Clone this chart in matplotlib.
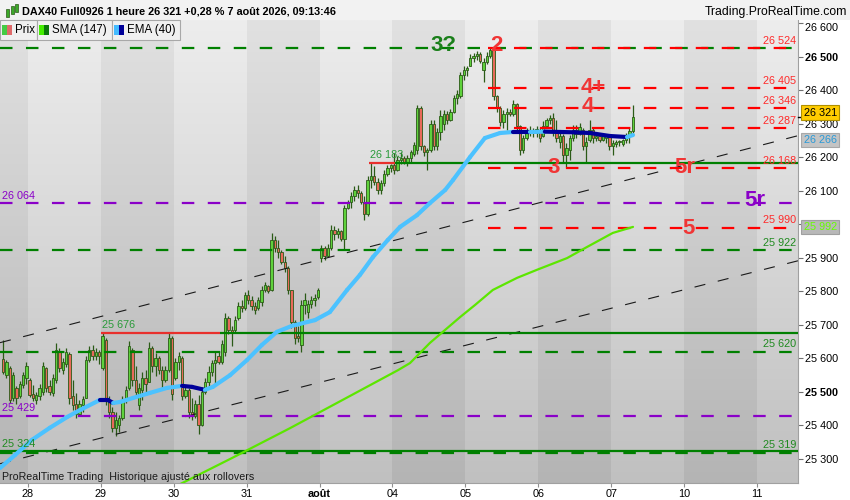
import matplotlib
matplotlib.use("Agg")
import matplotlib.pyplot as plt
import matplotlib.transforms as mtransforms
from matplotlib.collections import LineCollection
from matplotlib.patches import Rectangle
import numpy as np

plt.rcParams['font.family'] = ['Liberation Sans', 'DejaVu Sans']
plt.rcParams['lines.scale_dashes'] = False

# ---------------------------------------------------------------- data
day_labels = ['28', '29', '30', '31', 'août', '04', '05', '06', '07', '10', '11']
BARS_PER_DAY = 22
session_bar_counts = [8, 22, 22, 22, 22, 22, 22, 22, 22, 7]
session_first_slot = [14, 0, 0, 0, 0, 0, 0, 0, 0, 0]
session_day_index = [-1, 0, 1, 2, 3, 4, 5, 6, 7, 8]

opens = [
    25598, 25550, 25571, 25481, 25511, 25487, 25520, 25541,
    25535, 25493, 25475, 25487, 25499, 25571, 25517, 25496, 25535, 25619, 25565,
    25583, 25613, 25487, 25463, 25434, 25460, 25481, 25595, 25624, 25607, 25619,
    25571, 25654, 25475, 25440, 25392, 25401, 25422, 25475, 25511, 25624, 25535,
    25460, 25505, 25541, 25529, 25630, 25577, 25601, 25565, 25535, 25565, 25660,
    25541, 25589, 25601, 25487, 25505, 25440, 25428, 25463, 25401, 25499, 25529,
    25559, 25586, 25607, 25589, 25619, 25720, 25684, 25684, 25720, 25756, 25750,
    25788, 25774, 25756, 25750, 25768, 25803, 25815, 25803, 25952, 25929, 25917,
    25887, 25869, 25803, 25708, 25666, 25639, 25759, 25738, 25762, 25774, 25783,
    25899, 25929, 25905, 25929, 25982, 25970, 25979, 25955, 26048, 26066, 26084,
    26102, 26093, 26066, 26030, 26131, 26143, 26125, 26102, 26122, 26149, 26167,
    26176, 26161, 26191, 26197, 26185, 26197, 26209, 26221, 26346, 26233, 26215,
    26221, 26298, 26233, 26274, 26298, 26328, 26310, 26334, 26376, 26382, 26444,
    26459, 26471, 26495, 26501, 26507, 26459, 26483, 26501, 26519, 26382, 26346,
    26304, 26328, 26334, 26328, 26358, 26292, 26221, 26257, 26274, 26280, 26271,
    26280, 26262, 26292, 26310, 26316, 26274, 26245, 26262, 26206, 26221, 26257,
    26280, 26268, 26280, 26233, 26251, 26280, 26257, 26262, 26251, 26257, 26262,
    26233, 26239, 26245, 26239, 26251, 26262, 26277,
]
highs = [
    25654, 25595, 25577, 25559, 25517, 25532, 25559, 25589,
    25541, 25520, 25499, 25523, 25589, 25574, 25535, 25553, 25645, 25630, 25601,
    25630, 25619, 25535, 25496, 25475, 25487, 25607, 25636, 25639, 25630, 25624,
    25675, 25660, 25487, 25455, 25440, 25431, 25487, 25517, 25651, 25630, 25577,
    25526, 25559, 25565, 25648, 25636, 25616, 25607, 25577, 25577, 25675, 25666,
    25601, 25619, 25607, 25520, 25511, 25481, 25475, 25490, 25514, 25541, 25577,
    25595, 25619, 25619, 25654, 25735, 25726, 25696, 25726, 25768, 25774, 25797,
    25803, 25785, 25768, 25782, 25815, 25827, 25818, 25973, 25964, 25952, 25923,
    25905, 25875, 25803, 25714, 25696, 25774, 25794, 25774, 25785, 25791, 25809,
    25938, 25935, 25941, 25997, 25994, 25988, 25982, 26057, 26072, 26096, 26113,
    26116, 26099, 26084, 26143, 26183, 26173, 26137, 26131, 26161, 26178, 26180,
    26212, 26203, 26215, 26203, 26206, 26221, 26245, 26355, 26352, 26236, 26227,
    26310, 26310, 26286, 26340, 26340, 26337, 26343, 26385, 26400, 26453, 26471,
    26471, 26507, 26510, 26516, 26513, 26495, 26513, 26524, 26524, 26385, 26352,
    26340, 26346, 26343, 26370, 26361, 26295, 26265, 26286, 26292, 26286, 26292,
    26286, 26307, 26316, 26325, 26331, 26310, 26271, 26268, 26242, 26265, 26295,
    26295, 26301, 26286, 26260, 26310, 26289, 26271, 26268, 26268, 26268, 26262,
    26251, 26251, 26251, 26254, 26271, 26286, 26355,
]
lows = [
    25553, 25541, 25466, 25472, 25463, 25481, 25511, 25523,
    25484, 25472, 25463, 25475, 25490, 25499, 25490, 25487, 25526, 25559, 25553,
    25574, 25463, 25446, 25422, 25428, 25440, 25481, 25589, 25595, 25595, 25583,
    25565, 25460, 25422, 25380, 25368, 25380, 25416, 25466, 25505, 25517, 25481,
    25446, 25475, 25490, 25529, 25559, 25547, 25553, 25511, 25529, 25559, 25475,
    25535, 25565, 25475, 25481, 25422, 25416, 25422, 25374, 25398, 25493, 25511,
    25547, 25520, 25583, 25583, 25607, 25672, 25636, 25678, 25714, 25738, 25744,
    25762, 25744, 25732, 25744, 25756, 25797, 25794, 25800, 25917, 25899, 25881,
    25857, 25791, 25690, 25642, 25648, 25619, 25732, 25720, 25750, 25756, 25777,
    25887, 25893, 25902, 25923, 25952, 25958, 25949, 25923, 26045, 26048, 26069,
    26078, 26060, 26012, 26024, 26107, 26116, 26090, 26090, 26113, 26143, 26155,
    26149, 26158, 26179, 26179, 26173, 26185, 26203, 26209, 26221, 26203, 26161,
    26215, 26221, 26221, 26251, 26280, 26298, 26307, 26331, 26358, 26376, 26429,
    26441, 26471, 26483, 26489, 26480, 26424, 26477, 26495, 26370, 26334, 26292,
    26286, 26280, 26322, 26322, 26280, 26206, 26212, 26251, 26262, 26260, 26260,
    26245, 26260, 26286, 26298, 26262, 26245, 26227, 26182, 26170, 26191, 26248,
    26257, 26265, 26221, 26182, 26245, 26242, 26248, 26245, 26248, 26242, 26221,
    26206, 26230, 26233, 26233, 26242, 26242, 26271,
]
closes = [
    25559, 25589, 25475, 25550, 25481, 25523, 25550, 25577,
    25490, 25481, 25490, 25511, 25577, 25511, 25499, 25541, 25624, 25571, 25589,
    25619, 25481, 25460, 25434, 25463, 25478, 25595, 25624, 25607, 25619, 25607,
    25666, 25475, 25440, 25392, 25416, 25422, 25475, 25505, 25636, 25535, 25499,
    25511, 25541, 25523, 25630, 25577, 25601, 25565, 25535, 25565, 25660, 25493,
    25589, 25607, 25487, 25505, 25440, 25428, 25463, 25401, 25499, 25529, 25559,
    25586, 25595, 25589, 25642, 25720, 25684, 25678, 25714, 25756, 25750, 25788,
    25774, 25756, 25744, 25774, 25803, 25818, 25800, 25952, 25929, 25917, 25887,
    25869, 25803, 25708, 25660, 25660, 25759, 25774, 25762, 25774, 25780, 25803,
    25929, 25905, 25929, 25982, 25970, 25979, 25955, 26048, 26066, 26084, 26102,
    26093, 26066, 26030, 26131, 26143, 26125, 26102, 26122, 26149, 26167, 26176,
    26161, 26191, 26197, 26185, 26197, 26215, 26236, 26346, 26233, 26215, 26221,
    26298, 26233, 26274, 26322, 26328, 26310, 26334, 26376, 26388, 26444, 26459,
    26465, 26495, 26501, 26507, 26486, 26483, 26501, 26519, 26382, 26346, 26304,
    26328, 26334, 26328, 26358, 26292, 26221, 26257, 26274, 26280, 26271, 26283,
    26257, 26292, 26310, 26316, 26274, 26257, 26262, 26206, 26227, 26257, 26280,
    26268, 26289, 26233, 26245, 26280, 26257, 26262, 26251, 26262, 26262, 26233,
    26242, 26245, 26248, 26251, 26262, 26277, 26321,
]

# EMA(40) and SMA(147): (bar position, value)
ema_pos = [-8.45, -3.9, 1.2, 6.6, 11.8, 15.7, 21.7, 24.1, 25.7, 27.8, 31.7, 36.8,
           42.0, 46.5, 49.5, 53.4, 55.8, 61.0, 66.1, 70.6, 75.1, 79.7, 86.6, 91.1,
           96.3, 100.2, 104.1, 108.6, 112.3, 117.4, 121.3, 125.9, 128.3, 133.4,
           137.9, 142.5, 146.4, 151.5, 156.0, 160.6, 165.0, 169.6, 175.6, 180.8, 182.6]
ema_val = [25273, 25312, 25357, 25393, 25425, 25446, 25476, 25476, 25467, 25470,
           25482, 25497, 25512, 25518, 25515, 25506, 25515, 25550, 25595, 25640,
           25679, 25697, 25714, 25738, 25804, 25849, 25902, 25953, 25992, 26027,
           26063, 26102, 26132, 26200, 26257, 26272, 26275, 26275, 26276, 26275,
           26274, 26272, 26263, 26260, 26266]
sma_pos = [45.9, 61.6, 79.1, 97.2, 111.7, 115.3, 121.3, 125.2, 130.4, 134.9,
           140.3, 147.6, 153.6, 162.7, 168.7, 176.5, 182.6]
sma_val = [25225, 25303, 25392, 25488, 25565, 25586, 25646, 25679, 25723, 25759,
           25804, 25840, 25864, 25899, 25932, 25974, 25992]

# horizontal levels
green_dashed_levels = [26524, 25922, 25620, 25319]
purple_dashed_levels = [26064, 25429]
red_dashed_levels = [26524, 26405, 26346, 26287, 26168, 25990]
red_dashed_start = 138.8          # bar position of the "2" top
green_solid_full = 25324
breakout_levels = [25676, 26183]   # resistance (red) then support (green)
breakout_red_span = [(22.0, 57.9), (102.9, 110.8)]

trend_upper = [(0.6, 25670), (232.4, 26264)]
trend_lower = [(33.8, 25392), (232.4, 25891)]

last_price = 26321
ema_last = 26266
sma_last = 25992

# ---------------------------------------------------------------- figure
W, H = 850, 500
fig = plt.figure(figsize=(W / 100, H / 100), dpi=100, facecolor='white')
ax_left, ax_right, ax_top, ax_bottom = 0, 798, 20, 483
ax = fig.add_axes([ax_left / W, 1 - ax_bottom / H, (ax_right - ax_left) / W,
                   (ax_bottom - ax_top) / H])
XMIN, XMAX = -8.45, 232.4
YMIN, YMAX = 25228.4, 26608.9
ax.set_xlim(XMIN, XMAX)
ax.set_ylim(YMIN, YMAX)

# background: day bands with vertical gradient
grad = np.linspace(0, 1, 200)[:, None]
light_top, light_bot = 237 / 255, 192 / 255
dark_top, dark_bot = 225 / 255, 180 / 255
for k in range(-1, 11):
    t0, t1 = BARS_PER_DAY * k, BARS_PER_DAY * (k + 1)
    if k % 2 == 0:
        g = light_top + (light_bot - light_top) * grad
    else:
        g = dark_top + (dark_bot - dark_top) * grad
    img = np.dstack([g, g, g])
    ax.imshow(img, extent=(t0, t1, YMIN, YMAX), aspect='auto', origin='upper',
              zorder=0, interpolation='bilinear')
ax.set_xlim(XMIN, XMAX)
ax.set_ylim(YMIN, YMAX)

# candle positions
pos = []
for n, first, d in zip(session_bar_counts, session_first_slot, session_day_index):
    for j in range(n):
        pos.append(BARS_PER_DAY * d + first + j + 0.5)
pos = np.array(pos)
o = np.array(opens, float); hi = np.array(highs, float)
lo = np.array(lows, float); c = np.array(closes, float)
up = c >= o
edge = '#2b5a17'
ax.vlines(pos, lo, hi, color=edge, lw=0.9, zorder=4)
body_bottom = np.minimum(o, c)
body_h = np.maximum(np.abs(c - o), 2.0)
ax.bar(pos, body_h, bottom=body_bottom, width=0.7,
       color=np.where(up, '#5fd23c', '#e86a5a'), edgecolor=edge,
       linewidth=0.6, zorder=4.1)

# trend channel
for (p1, p2) in (trend_upper, trend_lower):
    ax.axline(p1, p2, color='#1a1a1a', lw=0.8, linestyle=(0, (8.0, 9.2)), zorder=5)

dash = (0, (9.0, 9.7))
for lv in green_dashed_levels:
    ax.hlines(lv, XMIN, XMAX, color='#008000', lw=1.6, linestyle=dash, zorder=5)
for lv in purple_dashed_levels:
    ax.hlines(lv, XMIN, XMAX, color='#8a00c8', lw=1.6, linestyle=dash, zorder=5)
ax.hlines(green_solid_full, XMIN, XMAX, color='#008000', lw=1.6, zorder=5)
for lv in red_dashed_levels:
    ax.hlines(lv, red_dashed_start, XMAX, color='#ff0000', lw=1.6,
              linestyle=dash, zorder=5.2)
for lv, (r0, r1) in zip(breakout_levels, breakout_red_span):
    ax.hlines(lv, r0, r1, color='#e8302c', lw=1.6, zorder=5)
    ax.hlines(lv, r1, XMAX, color='#008000', lw=1.6, zorder=5)

# moving averages
ax.plot(sma_pos, sma_val, color='#5ce600', lw=1.6, zorder=6, solid_capstyle='round')
pts = np.column_stack([ema_pos, ema_val])
segs = np.stack([pts[:-1], pts[1:]], axis=1)
ema_cols = ['#000099' if b <= a else '#4cc2ff' for a, b in zip(ema_val[:-1], ema_val[1:])]
ax.add_collection(LineCollection(segs, colors=ema_cols, linewidths=3.0,
                                 capstyle='round', zorder=6.5))

# level labels
def fmt(v):
    return f"{v:,}".replace(',', ' ')

blend = mtransforms.blended_transform_factory(ax.transAxes, ax.transData)
lab_fs = 7.8
for lv in red_dashed_levels:
    ax.annotate(fmt(lv), xy=(796 / 798, lv), xycoords=blend, xytext=(0, 5.2),
                textcoords='offset points', ha='right', va='center',
                color='#ff2a2a', fontsize=lab_fs, zorder=8)
for lv in green_dashed_levels[1:]:
    ax.annotate(fmt(lv), xy=(796 / 798, lv), xycoords=blend, xytext=(0, 5.2),
                textcoords='offset points', ha='right', va='center',
                color='#1f8a1f', fontsize=lab_fs, zorder=8)
for lv in purple_dashed_levels:
    ax.annotate(fmt(lv), xy=(2 / 798, lv), xycoords=blend, xytext=(0, 5.2),
                textcoords='offset points', ha='left', va='center',
                color='#8a00c8', fontsize=lab_fs, zorder=8)
ax.annotate(fmt(green_solid_full), xy=(2 / 798, green_solid_full), xycoords=blend,
            xytext=(0, 5.2), textcoords='offset points', ha='left', va='center',
            color='#1f8a1f', fontsize=lab_fs, zorder=8)
for lv, (r0, r1) in zip(breakout_levels, breakout_red_span):
    ax.annotate(fmt(lv), xy=(r0, lv), xytext=(1, 5.5), textcoords='offset points',
                ha='left', va='center', color='#2a9a3a', fontsize=lab_fs, zorder=8)

# big wave labels (pixel positions of the annotations)
def ftext(x, y, s, **kw):
    fig.text(x / W, 1 - y / H, s, ha='center', va='center', **kw)

big = dict(fontsize=16, fontweight='bold', zorder=10)
ftext(443, 45.5, '3?', color='#1a7f1a', **big)
ftext(496, 45.5, '2', color='#f03535', **big)
ftext(593.5, 87.5, '4+', color='#f03535', **big)
ftext(587.5, 106.5, '4', color='#f03535', **big)
ftext(553.5, 167.5, '3', color='#f03535', **big)
ftext(684.5, 167.5, '5r', color='#f03535', **big)
ftext(755, 200, '5r', color='#8a00c8', **big)
ftext(688.5, 228, '5', color='#f03535', **big)

# axes styling
for s in ('top', 'left'):
    ax.spines[s].set_visible(False)
ax.spines['right'].set_color('#a0a0a0')
ax.spines['bottom'].set_color('#a0a0a0')
ax.yaxis.tick_right()
yt = list(range(25300, 26601, 100))
ax.set_yticks(yt)
ylabels = [fmt(v) for v in yt]
ylabels[-1] = ''          # top label is drawn lowered, as on the reference
ax.set_yticklabels(ylabels, fontsize=lab_fs)
for v, lab in zip(yt, ax.get_yticklabels()):
    if v % 1000 == 500:
        lab.set_fontweight('bold')
ax.annotate(fmt(yt[-1]), xy=(1.0, yt[-1]), xycoords=blend, xytext=(5.3, -3.6),
            textcoords='offset points', ha='left', va='center', fontsize=lab_fs,
            color='black', annotation_clip=False)
ax.tick_params(axis='y', length=3.5, width=0.8, color='#707070', pad=1.5)
xt = [BARS_PER_DAY * k for k in range(len(day_labels))]
ax.set_xticks(xt)
ax.set_xticklabels(day_labels, fontsize=lab_fs)
for lab in ax.get_xticklabels():
    if lab.get_text() == 'août':
        lab.set_fontweight('bold')
ax.tick_params(axis='x', length=3, width=0.8, color='#909090', pad=1.5)

# right-side tags (shifted apart as the platform does)
def tag(v, fc, tc, ec, dy=0.0):
    tr = mtransforms.offset_copy(blend, fig=fig, x=5.5, y=dy, units='dots')
    ax.text(1.0, v, fmt(v), transform=tr, ha='left', va='center', fontsize=lab_fs,
            color=tc, zorder=20, clip_on=False,
            bbox=dict(boxstyle='square,pad=0.2', fc=fc, ec=ec, lw=0.8))
ax.plot([1.0, 1.0 + 6 / 798], [last_price, last_price], transform=blend,
        color='black', lw=1.0, clip_on=False, zorder=19)
tag(last_price, '#ffcc00', '#000000', '#b09000', dy=4)
tag(ema_last, '#c4c4c4', '#2a9ad8', '#a8a8a8', dy=-5)
tag(sma_last, '#b8b8b8', '#66ff00', '#a0a0a0')

# header
fig.patches.append(Rectangle((0, 1 - 20 / H), 1, 20 / H, transform=fig.transFigure,
                             fc='#f2f2f2', ec='none', zorder=1))
fig.text(22 / W, 1 - 11.5 / H, 'DAX40 Full0926 1 heure 26 321 +0,28 % 7 août 2026, 09:13:46',
         fontsize=7.8, fontweight='bold', va='center', ha='left', color='#000000')
fig.text(847 / W, 1 - 12 / H, 'Trading.ProRealTime.com', fontsize=8.8,
         va='center', ha='right', color='#000000')
# small candle icon
for (x0, y0, h0, col) in [(6, 9, 8, '#3caa2a'), (10.5, 6, 8, '#3caa2a'), (15, 4, 8, '#3caa2a')]:
    fig.patches.append(Rectangle((x0 / W, 1 - (y0 + h0) / H), 3 / W, h0 / H,
                                 transform=fig.transFigure, fc=col, ec='#2b5a17',
                                 lw=0.5, zorder=2))

# legend boxes
leg = [(0, 37, 'Prix', '#44cc44', '#e06a6a'),
       (37, 112, 'SMA (147)', '#44ee00', '#0a780a'),
       (112, 180, 'EMA (40)', '#44bbff', '#000099')]
for (x0, x1, txt, c1, c2) in leg:
    fig.add_artist(Rectangle((x0 / W, 1 - 39.5 / H), (x1 - x0) / W, 19 / H,
                             transform=fig.transFigure, fc='#f0f0f0', ec='#a8a8a8',
                             lw=0.8, zorder=20))
    fig.add_artist(Rectangle(((x0 + 2) / W, 1 - 35 / H), 5 / W, 10 / H,
                             transform=fig.transFigure, fc=c1, ec='none', zorder=21))
    fig.add_artist(Rectangle(((x0 + 7) / W, 1 - 35 / H), 5 / W, 10 / H,
                             transform=fig.transFigure, fc=c2, ec='none', zorder=21))
    t = fig.text((x0 + 15) / W, 1 - 30 / H, txt, fontsize=8.3, va='center',
                 ha='left', color='#000000')
    t.set_zorder(22)

fig.text(2 / W, 1 - 476.5 / H, 'ProRealTime Trading  Historique ajusté aux rollovers',
         fontsize=7.65, va='center', ha='left', color='#1a1a1a', zorder=20)

fig.savefig('out.png', dpi=100, facecolor='white')
